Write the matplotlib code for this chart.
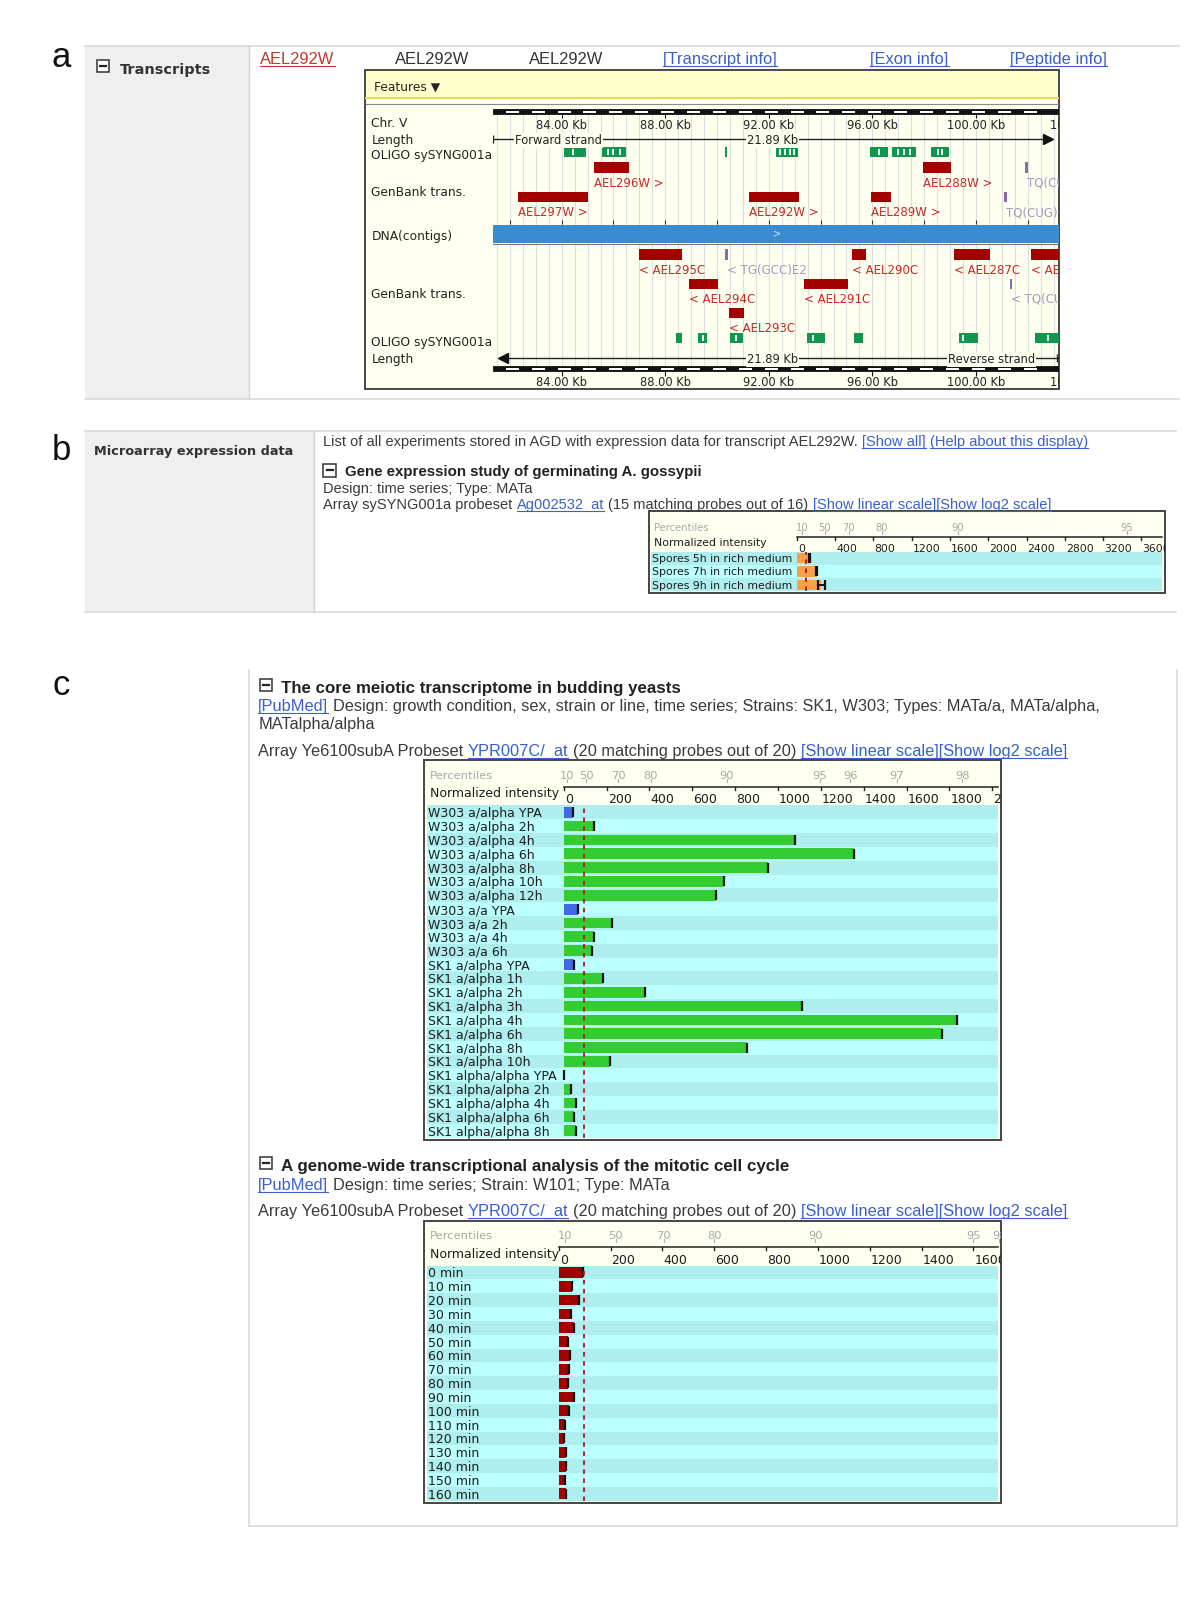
import numpy as np
import matplotlib
matplotlib.use("Agg")
import matplotlib.pyplot as plt
from matplotlib.patches import Rectangle
from matplotlib.transforms import Bbox, blended_transform_factory

# ---------------- data ----------------
# a) genome browser, positions in kb on Chr. V
chr_start, chr_len = 81.34, 21.89
ruler_kb = [84, 88, 92, 96, 100, 104]
oligo_fwd = [(84.09, 84.92), (85.56, 86.49), (90.31, 90.40), (92.27, 93.13),
             (95.90, 96.60), (96.77, 97.69), (98.26, 98.95)]
oligo_fwd_gaps = [84.45, 85.80, 86.00, 86.25, 92.45, 92.62, 92.80, 92.96,
                  96.25, 96.98, 97.22, 97.45, 98.52, 98.70]
gb_fwd_top = [("AEL296W >", 85.23, 86.58), ("AEL288W >", 97.94, 99.05)]
gb_fwd_low = [("AEL297W >", 82.32, 85.00), ("AEL292W >", 91.23, 93.17),
              ("AEL289W >", 95.95, 96.72)]
trna_fwd_top = [("TQ(CU", 101.96)]
trna_fwd_low = [("TQ(CUG)", 101.15)]
gb_rev_1 = [("< AEL295C", 86.99, 88.64), ("< AEL290C", 95.21, 95.76),
            ("< AEL287C", 99.16, 100.54), ("< AE", 102.13, 103.40)]
gb_rev_2 = [("< AEL294C", 88.93, 90.02), ("< AEL291C", 93.36, 95.04)]
gb_rev_3 = [("< AEL293C", 90.45, 91.06)]
trna_rev_1 = [("< TG(GCC)E2", 90.37)]
trna_rev_2 = [("< TQ(CU", 101.35)]
oligo_rev = [(88.43, 88.64), (89.28, 89.62), (90.49, 91.01), (93.48, 94.17),
             (95.30, 95.64), (99.33, 100.09), (102.30, 103.40)]
oligo_rev_gaps = [89.45, 90.72, 93.72, 99.52, 102.80]

# b) A. gossypii spores
b_labels = ["Spores 5h in rich medium", "Spores 7h in rich medium", "Spores 9h in rich medium"]
b_values = [135, 205, 255]
b_err = [6, 6, 40]
b_ticks = [0, 400, 800, 1200, 1600, 2000, 2400, 2800, 3200, 3600]
b_pct = ["10", "50", "70", "80", "90", "95"]
b_pct_pos = [50, 290, 540, 890, 1680, 3450]
b_cut = 95

# c) core meiotic transcriptome
c1_labels = ["W303 a/alpha YPA", "W303 a/alpha 2h", "W303 a/alpha 4h", "W303 a/alpha 6h",
             "W303 a/alpha 8h", "W303 a/alpha 10h", "W303 a/alpha 12h", "W303 a/a YPA",
             "W303 a/a 2h", "W303 a/a 4h", "W303 a/a 6h", "SK1 a/alpha YPA",
             "SK1 a/alpha 1h", "SK1 a/alpha 2h", "SK1 a/alpha 3h", "SK1 a/alpha 4h",
             "SK1 a/alpha 6h", "SK1 a/alpha 8h", "SK1 a/alpha 10h", "SK1 alpha/alpha YPA",
             "SK1 alpha/alpha 2h", "SK1 alpha/alpha 4h", "SK1 alpha/alpha 6h", "SK1 alpha/alpha 8h"]
c1_values = [42, 139, 1078, 1355, 955, 749, 710, 67, 226, 139, 132, 48,
             183, 377, 1112, 1836, 1766, 856, 215, 3, 32, 58, 49, 55]
c1_ticks = [0, 200, 400, 600, 800, 1000, 1200, 1400, 1600, 1800, 2000]
c1_pct = ["10", "50", "70", "80", "90", "95", "96", "97", "98"]
c1_pct_pos = [15, 105, 255, 405, 760, 1195, 1337, 1555, 1860]
c1_cut = 95

# c) mitotic cell cycle
c2_labels = ["0 min", "10 min", "20 min", "30 min", "40 min", "50 min", "60 min", "70 min",
             "80 min", "90 min", "100 min", "110 min", "120 min", "130 min", "140 min",
             "150 min", "160 min"]
c2_values = [92, 52, 79, 47, 60, 35, 43, 39, 35, 60, 39, 26, 22, 30, 30, 26, 30]
c2_ticks = [0, 200, 400, 600, 800, 1000, 1200, 1400, 1600]
c2_pct = ["10", "50", "70", "80", "90", "95", "98"]
c2_pct_pos = [25, 220, 405, 600, 990, 1600, 1700]
c2_cut = 99

# ---------------- page ----------------
W, H = 1176, 1568          # reference units
PX = 1200 / W              # figure pixels per unit
SANS = "Liberation Sans"
DJ = "DejaVu Sans"
TXT = "#3a3a3a"
LINK = "#3a5fcd"
RULE = "#dadada"

fig = plt.figure(figsize=(12, 16), dpi=100)
pg = fig.add_axes([0, 0, 1, 1])
pg.set_xlim(0, W)
pg.set_ylim(H, 0)
pg.axis("off")
R = fig.canvas.get_renderer()


def box(x0, y0, x1, y1):
    return [x0 / W, 1 - y1 / H, (x1 - x0) / W, (y1 - y0) / H]


def seg_width(txt, size, family=SANS, weight="normal"):
    t = pg.text(0, 0, txt, fontsize=size, family=family, fontweight=weight)
    w = t.get_window_extent(renderer=R).width / PX
    t.remove()
    return w


def fit(txt, target, family=SANS, weight="normal"):
    return 10 * target / seg_width(txt, 10, family, weight)


def web_line(x, y, parts, size, family=SANS, weight="normal"):
    sp = seg_width("a a", size, family, weight) - seg_width("aa", size, family, weight)
    base = y + 0.49 * size
    for txt, col, ul in parts:
        lead = len(txt) - len(txt.lstrip(" "))
        trail = len(txt) - len(txt.rstrip(" "))
        x += lead * sp
        t = pg.text(x, base, txt.strip(" "), fontsize=size, family=family,
                    fontweight=weight, color=col, va="baseline", ha="left")
        w = t.get_window_extent(renderer=R).width / PX
        if ul:
            pg.plot([x, x + w], [base + 0.19 * size] * 2, color=col, lw=0.8)
        x += w + trail * sp
    return x


def icon(x, y, s=12):
    pg.add_patch(Rectangle((x, y), s, s, fc="white", ec="#333", lw=1.1))
    pg.plot([x + 3, x + s - 3], [y + s / 2] * 2, color="#222", lw=1.6)


# panel letters
for letter, yy in (("a", 56), ("b", 441), ("c", 672)):
    pg.text(60, yy, letter, fontsize=25, family=SANS, ha="center", va="center", color="#111")

# ---------------- panel a ----------------
pg.add_patch(Rectangle((83, 45), 161, 346, fc="#efefef", ec="none"))
pg.plot([83, 1155], [45, 45], color=RULE, lw=1.2)
pg.plot([83, 1155], [391, 391], color=RULE, lw=1.2)
pg.plot([244, 244], [45, 391], color="#d2d2d2", lw=1)
icon(95, 59)
sz = fit("Transcripts", 89, DJ, "bold")
web_line(117, 67, [("Transcripts", "#333", False)], sz, DJ, "bold")

sz_top = fit("[Transcript info]", 111)
for txt, xx, col, ul in [("AEL292W", 255, "#c0392b", True), ("AEL292W", 387, "#333", False),
                         ("AEL292W", 518, "#333", False), ("[Transcript info]", 650, LINK, True),
                         ("[Exon info]", 853, LINK, True), ("[Peptide info]", 990, LINK, True)]:
    web_line(xx, 57, [(txt, col, ul)], sz_top)

# browser frame
pg.add_patch(Rectangle((358, 69), 680, 312, fc="#fffff0", ec="#3a3a3a", lw=1.3))
pg.add_patch(Rectangle((359, 70), 678, 26, fc="#ffffcc", ec="none"))
pg.plot([359, 1037], [96.5, 96.5], color="#e8d860", lw=1.5)
pg.plot([359, 1037], [101.5, 101.5], color="#8a8a8a", lw=0.8)
pg.text(367, 84, "Features \u25bc", fontsize=8.8, family=DJ, va="center_baseline", color="#222")
for lab, yy in [("Chr. V", 120), ("Length", 136), ("OLIGO sySYNG001a", 151),
                ("GenBank trans.", 187), ("DNA(contigs)", 230), ("GenBank trans.", 287),
                ("OLIGO sySYNG001a", 334), ("Length", 351)]:
    pg.text(364, yy, lab, fontsize=8.8, family=DJ, va="center_baseline", color="#222")

kb_end = chr_start + chr_len
PXKB = 25.37
ax_a = fig.add_axes(box(483, 103, 1038, 380))
ax_a.set_xlim(chr_start, chr_start + (1038 - 483) / PXKB)
ax_a.set_ylim(380, 103)
ax_a.axis("off")

ax_a.vlines(np.arange(81.5, kb_end, 0.5), 112, 359, color="#dedede", lw=0.8, zorder=0)
for yr, ylab, tdir in ((107, 122, 1), (359, 373, -1)):
    ax_a.add_patch(Rectangle((chr_start, yr), chr_len, 5, fc="#111", ec="#111", lw=0.6))
    for s in np.arange(chr_start + 0.5, kb_end - 0.5, 1.0):
        ax_a.add_patch(Rectangle((s, yr + 1.5), 0.5, 2, fc="white", ec="none"))
    base = yr + 5 if tdir > 0 else yr - 0
    ax_a.vlines(ruler_kb, yr + 5, yr + 9, color="#111", lw=0.8) if tdir > 0 else \
        ax_a.vlines(ruler_kb, yr + 5, yr + 9, color="#111", lw=0.8)
    for k in ruler_kb:
        ax_a.text(k, ylab, f"{k:.2f} Kb", fontsize=8.3, family=DJ, ha="center",
                  va="center_baseline", color="#222", clip_on=True)

# length lines
ax_a.plot([chr_start, kb_end - 0.4], [136, 136], color="#222", lw=1)
ax_a.vlines([chr_start], 132, 140, color="#222", lw=1)
ax_a.plot([kb_end - 0.45], [136], marker=">", ms=7, color="#111", clip_on=True)
ax_a.plot([chr_start + 0.4, kb_end], [351, 351], color="#222", lw=1)
ax_a.vlines([kb_end - 0.08], 347, 355, color="#222", lw=1)
ax_a.plot([chr_start + 0.4], [351], marker="<", ms=7, color="#111")
for txt, k, yy, ha in [("Forward strand", 82.2, 136, "left"), (f"{chr_len:.2f} Kb", 92.14, 136, "center"),
                       (f"{chr_len:.2f} Kb", 92.14, 351, "center"), ("Reverse strand", 100.61, 351, "center")]:
    ax_a.text(k, yy, txt, fontsize=8.3, family=DJ, ha=ha, va="center_baseline", color="#222",
              bbox=dict(fc="#fffff0", ec="none", pad=0.6))

# DNA contig
ax_a.vlines(np.arange(82, kb_end, 2), 216, 220, color="#333", lw=0.8)
ax_a.add_patch(Rectangle((chr_start, 220.5), chr_len, 17.5, fc="#3b8bd0", ec="none"))
ax_a.plot([chr_start, kb_end], [239.5, 239.5], color="#777", lw=0.8)
ax_a.text(92.3, 229, ">", fontsize=7, family=DJ, ha="center", va="center", color="#cfe3f5")

GREEN, DRED, LRED = "#12954f", "#a30000", "#c62828"
PURP, LPURP = "#8a6aaa", "#a898c2"


def genes(items, y0, y1, ylab):
    for name, s, e in items:
        ax_a.add_patch(Rectangle((s, y0), e - s, y1 - y0, fc=DRED, ec="none"))
        ax_a.text(s, ylab, name, fontsize=8.5, family=DJ, color=LRED, ha="left",
                  va="center_baseline", clip_on=True)


def trnas(items, y0, y1, ylab):
    for name, s in items:
        ax_a.add_patch(Rectangle((s - 0.05, y0), 0.1, y1 - y0, fc=PURP, ec="none"))
        ax_a.text(s, ylab, name, fontsize=8.5, family=DJ, color=LPURP, ha="left",
                  va="center_baseline", clip_on=True)


def oligos(items, gaps, y0, y1):
    for s, e in items:
        ax_a.add_patch(Rectangle((s, y0), e - s, y1 - y0, fc=GREEN, ec="none"))
    ax_a.vlines(gaps, y0 + 2, y1 - 2, color="white", lw=1.3)


oligos(oligo_fwd, oligo_fwd_gaps, 144, 154)
genes(gb_fwd_top, 159, 170, 178)
trnas(trna_fwd_top, 159, 170, 178)
genes(gb_fwd_low, 188, 198, 207)
trnas(trna_fwd_low, 188, 198, 207)
genes(gb_rev_1, 244.5, 254.5, 263.5)
trnas(trna_rev_1, 244.5, 254.5, 263.5)
genes(gb_rev_2, 273.5, 283, 292)
trnas(trna_rev_2, 273.5, 283, 292)
genes(gb_rev_3, 302, 311.5, 320.5)
oligos(oligo_rev, oligo_rev_gaps, 326, 336)

# ---------------- panel b ----------------
pg.add_patch(Rectangle((83, 422), 225, 178, fc="#efefef", ec="none"))
pg.plot([83, 1152], [422, 422], color=RULE, lw=1.2)
pg.plot([83, 1152], [600, 600], color=RULE, lw=1.2)
pg.plot([308, 308], [422, 600], color="#d2d2d2", lw=1)
sz = fit("Microarray expression data", 195, DJ, "bold")
web_line(92, 441, [("Microarray expression data", "#333", False)], sz, DJ, "bold")

b_arr = [("Array sySYNG001a probeset ", TXT, False), ("Ag002532_at", LINK, True),
         (" (15 matching probes out of 16) ", TXT, False),
         ("[Show linear scale][Show log2 scale]", LINK, True)]
sz_b = fit("".join(p[0] for p in b_arr), 711)
web_line(317, 432, [("List of all experiments stored in AGD with expression data for transcript AEL292W.", TXT, False),
                    (" [Show all]", LINK, True), (" (Help about this display)", LINK, True)], sz_b)
icon(317, 455)
sz_bt = fit("Gene expression study of germinating A. gossypii", 352, SANS, "bold")
web_line(338, 461, [("Gene expression study of germinating A. gossypii", "#222", False)], sz_bt, SANS, "bold")
web_line(317, 478, [("Design: time series; Type: MATa", TXT, False)], sz_b)
web_line(317, 494, b_arr, sz_b)

BAND = ["#afeeee", "#bbffff"]


def expr_chart(frame, band_y, zero_x, px_per, labels, values, colors, ticks,
               pct, pct_pos, cut, hdr, fs, err=None):
    fx0, fy0, fx1, fy1 = frame
    pg.add_patch(Rectangle((fx0, fy0), fx1 - fx0, fy1 - fy0, fc="#fffff0", ec="#444", lw=1.4))
    bx0, bx1 = fx0 + 2, fx1 - 3
    ax = fig.add_axes(box(bx0, band_y[0], bx1, band_y[1]))
    ax.set_xlim(-(zero_x - bx0) / px_per, (bx1 - zero_x) / px_per)
    n = len(labels)
    ax.set_ylim(n - 0.5, -0.5)
    ax.axis("off")
    rows = np.arange(n)
    for i in rows:
        ax.axhspan(i - 0.5, i + 0.5, color=BAND[i % 2], lw=0, zorder=0)
    ax.barh(rows, values, height=0.78, color=colors, lw=0, zorder=2)
    if err is None:
        ax.scatter(values, rows, marker="|", s=60, c="#111", linewidths=1.6, zorder=3)
    else:
        ax.errorbar(values, rows, xerr=err, fmt="none", ecolor="#111", elinewidth=1.4,
                    capsize=3.5, capthick=1.6, zorder=3)
    ax.axvline(cut, color="#b01818", lw=1.3, ls=(0, (2.5, 2.5)), zorder=4)
    lab_tr = blended_transform_factory(pg.transData, ax.transData)
    for i, lab in enumerate(labels):
        ax.text(bx0 + 1, i, lab, transform=lab_tr, va="center_baseline", ha="left",
                fontsize=fs, family=DJ, color="#1c1c1c", zorder=5)

    pct_y, axis_y, tick_y, ni_y = hdr
    tr = blended_transform_factory(ax.transData, pg.transData)
    clip = Bbox.from_extents(fx0 * PX, (H - fy1) * PX, fx1 * PX, (H - fy0) * PX)
    xmax = ax.get_xlim()[1]
    pg.plot([0, xmax], [axis_y, axis_y], transform=tr, color="#222", lw=1.1)
    for t in ticks:
        pg.plot([t, t], [axis_y, axis_y + 3], transform=tr, color="#222", lw=1)
        tt = pg.text(t + 1 / px_per, tick_y, str(t), transform=tr, ha="left",
                     va="center_baseline", fontsize=fs, family=DJ, color="#1c1c1c")
        tt.set_clip_box(clip)
        tt.set_clip_on(True)
    for s, p in zip(pct, pct_pos):
        pg.plot([p, p], [pct_y + 4, pct_y + 7], transform=tr, color="#b0b0b0", lw=0.8)
        tt = pg.text(p, pct_y, s, transform=tr, ha="center", va="center_baseline",
                     fontsize=fs * 0.92, family=DJ, color="#a8a8a8")
        tt.set_clip_box(clip)
        tt.set_clip_on(True)
    pg.text(fx0 + 5, pct_y, "Percentiles", fontsize=fs * 0.92, family=DJ,
            va="center_baseline", color="#a8a8a8")
    pg.text(fx0 + 5, ni_y, "Normalized intensity", fontsize=fs, family=DJ,
            va="center_baseline", color="#1c1c1c")
    return ax


expr_chart((636, 501, 1142, 581), (540.5, 579.5), 781, 0.09375, b_labels, b_values,
           "#f7a04a", b_ticks, b_pct, b_pct_pos, b_cut, (516, 526, 537, 531), 7.8, err=b_err)

# ---------------- panel c ----------------
pg.plot([244, 244], [657, 1495], color=RULE, lw=1.2)
pg.plot([1153, 1153], [657, 1495], color=RULE, lw=1.2)
pg.plot([244, 1153], [1495, 1495], color=RULE, lw=1.2)

c_arr = [("Array Ye6100subA Probeset ", TXT, False), ("YPR007C/_at", LINK, True),
         (" (20 matching probes out of 20) ", TXT, False),
         ("[Show linear scale][Show log2 scale]", LINK, True)]
sz_c = fit("".join(p[0] for p in c_arr), 793)
sz_ct = fit("The core meiotic transcriptome in budding yeasts", 393, SANS, "bold")

icon(255, 665)
web_line(275, 673, [("The core meiotic transcriptome in budding yeasts", "#222", False)], sz_ct, SANS, "bold")
web_line(253, 691, [("[PubMed]", LINK, True),
                    (" Design: growth condition, sex, strain or line, time series; Strains: SK1, W303; Types: MATa/a, MATa/alpha,", TXT, False)], sz_c)
web_line(253, 709, [("MATalpha/alpha", TXT, False)], sz_c)
web_line(253, 735, c_arr, sz_c)

c1_colors = ["#4169e1" if lab.endswith("YPA") else "#33cc33" for lab in c1_labels]
expr_chart((416, 745, 981, 1117), (789.2, 1114.9), 552.5, 0.21, c1_labels, c1_values,
           c1_colors, c1_ticks, c1_pct, c1_pct_pos, c1_cut, (759.5, 771, 782.5, 776), 9)

icon(255, 1134)
web_line(275, 1142, [("A genome-wide transcriptional analysis of the mitotic cell cycle", "#222", False)], sz_ct, SANS, "bold")
web_line(253, 1160, [("[PubMed]", LINK, True), (" Design: time series; Strain: W101; Type: MATa", TXT, False)], sz_c)
web_line(253, 1186, c_arr, sz_c)

expr_chart((416, 1197, 981, 1473), (1240.2, 1470.7), 547.5, 0.254, c2_labels, c2_values,
           "#a30000", c2_ticks, c2_pct, c2_pct_pos, c2_cut, (1210, 1222, 1233.5, 1228), 9)

fig.savefig("out.png", dpi=100, facecolor="white")
